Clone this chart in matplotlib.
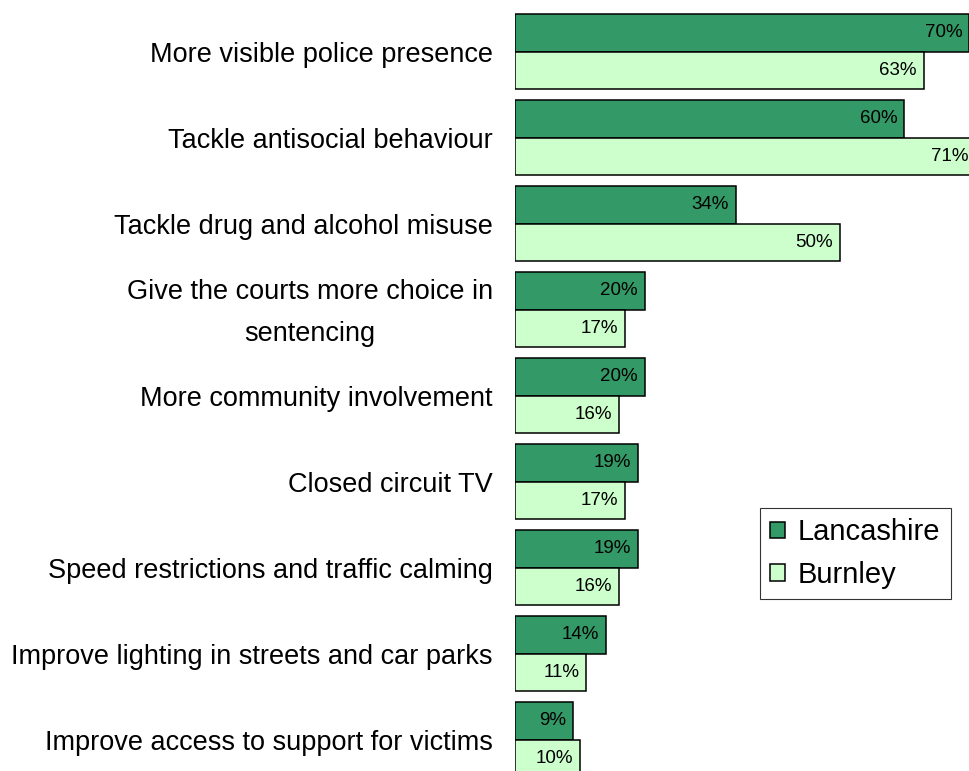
import matplotlib.pyplot as plt
import matplotlib.transforms as mtransforms
import numpy as np

categories = [
    "More visible police presence",
    "Tackle antisocial behaviour",
    "Tackle drug and alcohol misuse",
    "Give the courts more choice in\nsentencing",
    "More community involvement",
    "Closed circuit TV",
    "Speed restrictions and traffic calming",
    "Improve lighting in streets and car parks",
    "Improve access to support for victims",
]
lancashire = [70, 60, 34, 20, 20, 19, 19, 14, 9]
burnley = [63, 71, 50, 17, 16, 17, 16, 11, 10]

plt.rcParams['font.family'] = ['Liberation Sans', 'DejaVu Sans']

fig = plt.figure(figsize=(9.7, 7.71), dpi=100)
ax = fig.add_axes([515 / 970, 0, 455 / 970, 1])

y = np.arange(len(categories))
h = 0.436
b1 = ax.barh(y - h / 2, lancashire, height=h, color="#339966", edgecolor="black",
             linewidth=1.1, label="Lancashire")
b2 = ax.barh(y + h / 2, burnley, height=h, color="#CCFFCC", edgecolor="black",
             linewidth=1.1, label="Burnley")

for bars, vals in ((b1, lancashire), (b2, burnley)):
    for bar, v in zip(bars, vals):
        ax.annotate(f"{v}%", xy=(v, bar.get_y() + bar.get_height() / 2),
                    xytext=(-5, 0), textcoords="offset points",
                    ha="right", va="center", fontsize=13.5, annotation_clip=False)

ax.set_xlim(0, 70.1)
ax.set_ylim(8.366, -0.599)

# category labels drawn as text so the two-line one centres properly
shift = mtransforms.ScaledTranslation(-22 / 100, -3.5 / 100, fig.dpi_scale_trans)
for yi, cat in zip(y, categories):
    ax.text(0, yi, cat, transform=ax.get_yaxis_transform() + shift,
            ha="right", va="center", multialignment="center",
            fontsize=19.5, linespacing=1.8)

ax.set_xticks([])
ax.set_yticks([])
for s in ax.spines.values():
    s.set_visible(False)

leg = ax.legend(loc="lower left", bbox_to_anchor=((760 - 515) / 455, (771 - 599) / 771),
                fontsize=21, frameon=True, fancybox=False, edgecolor="black",
                handlelength=0.5, handleheight=0.5, handletextpad=0.45,
                borderpad=0.35, labelspacing=0.5, borderaxespad=0)
leg.get_frame().set_linewidth(0.8)

fig.savefig("out.png", dpi=100)
